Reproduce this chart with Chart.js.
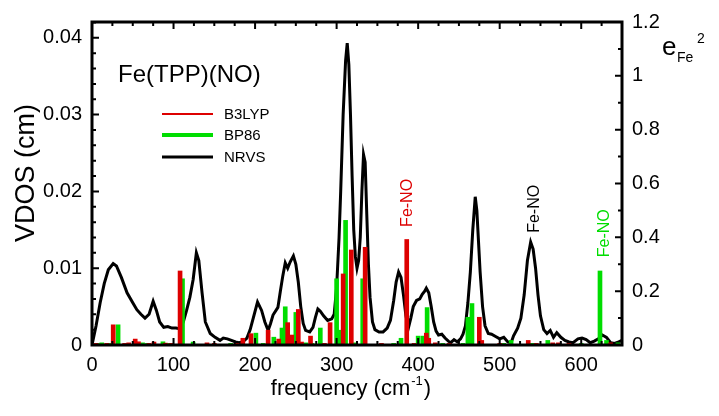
<!DOCTYPE html>
<html>
<head>
<meta charset="utf-8">
<script src="https://cdn.jsdelivr.net/npm/chart.js@4.4.0/dist/chart.umd.min.js"></script>
<style>
  html, body { margin: 0; padding: 0; background: #fff; }
  #wrap { width: 719px; height: 416px; }
</style>
</head>
<body>
<div id="wrap"><canvas id="vdosChart" width="719" height="416"></canvas></div>
<script>
// NRVS measured curve (frequency in cm-1, VDOS in cm)
const nrvsFreq = [0, 5, 10, 15, 20, 26, 30, 36, 43, 50, 55, 60, 65, 70, 75, 79, 83, 88, 93, 98,
  103, 108, 112, 116, 120, 124, 128, 131, 135, 139, 145, 151, 157, 161, 166, 171, 176, 180, 185, 190,
  194, 198, 203, 208, 212, 216, 219, 222, 228, 231, 234, 237, 240, 243, 247, 250, 253, 256, 259, 262,
  267, 271, 274, 277, 280, 284, 289, 294, 297, 300, 303, 305, 308, 311, 313, 315, 317, 319, 321, 323,
  325, 327, 329, 331, 333, 335, 337, 339, 341, 344, 347, 352, 357, 362, 366, 370, 373, 376, 379, 382,
  385, 388, 391, 394, 398, 402, 405, 408, 410, 413, 416, 419, 422, 425, 429, 433, 437, 440, 444, 448,
  452, 455, 458, 461, 464, 467, 470, 472, 474, 476, 479, 482, 486, 490, 495, 500, 505, 510, 514, 517,
  522, 526, 530, 534, 538, 541, 544, 547, 550, 554, 558, 562, 566, 570, 575, 580, 585, 590, 596, 601,
  606, 611, 616, 621, 626, 631, 636, 641, 646, 650];
const nrvsVdos = [0.0000, 0.0025, 0.0055, 0.0080, 0.0098, 0.0106, 0.0103, 0.0088, 0.0068, 0.0055, 0.0046, 0.0040, 0.0035, 0.0040, 0.0057, 0.0045, 0.0030, 0.0023, 0.0024, 0.0022,
  0.0022, 0.0021, 0.0030, 0.0045, 0.0062, 0.0085, 0.0120, 0.0110, 0.0068, 0.0030, 0.0015, 0.0010, 0.0006, 0.0009, 0.0008, 0.0006, 0.0004, 0.0003, 0.0004, 0.0009,
  0.0020, 0.0036, 0.0056, 0.0045, 0.0030, 0.0019, 0.0028, 0.0039, 0.0049, 0.0070, 0.0090, 0.0107, 0.0100, 0.0108, 0.0116, 0.0105, 0.0082, 0.0050, 0.0028, 0.0019,
  0.0017, 0.0023, 0.0036, 0.0047, 0.0044, 0.0038, 0.0032, 0.0034, 0.0040, 0.0075, 0.0140, 0.0200, 0.0300, 0.0370, 0.0393, 0.0365, 0.0300, 0.0220, 0.0150, 0.0115,
  0.0100, 0.0110, 0.0140, 0.0200, 0.0248, 0.0238, 0.0170, 0.0105, 0.0062, 0.0030, 0.0020, 0.0017, 0.0017, 0.0022, 0.0032, 0.0058, 0.0082, 0.0095, 0.0088, 0.0065,
  0.0038, 0.0022, 0.0035, 0.0050, 0.0058, 0.0060, 0.0066, 0.0070, 0.0074, 0.0068, 0.0050, 0.0030, 0.0018, 0.0013, 0.0014, 0.0009, 0.0005, 0.0003, 0.0007, 0.0004,
  0.0008, 0.0014, 0.0025, 0.0055, 0.0095, 0.0150, 0.0193, 0.0175, 0.0135, 0.0095, 0.0050, 0.0025, 0.0015, 0.0014, 0.0011, 0.0008, 0.0010, 0.0004, 0.0003, 0.0012,
  0.0022, 0.0035, 0.0065, 0.0110, 0.0134, 0.0125, 0.0100, 0.0065, 0.0038, 0.0020, 0.0015, 0.0019, 0.0010, 0.0016, 0.0010, 0.0006, 0.0004, 0.0003, 0.0008, 0.0009,
  0.0007, 0.0003, 0.0005, 0.0008, 0.0013, 0.0010, 0.0003, 0.0002, 0.0004, 0.0006];

// calculated Fe mode energy fractions (e_Fe^2)
const b3lypFreq = [5, 18, 26, 40, 45, 53, 57, 70, 76, 90, 97, 108, 141, 150, 178, 185, 195, 216, 229, 240,
  245, 253, 257, 268, 285, 292, 308, 318, 335, 355, 386, 395, 410, 413, 421, 438, 475, 478, 500, 535,
  545, 565, 572, 585, 636];
const b3lypE2 = [0.006, 0.006, 0.075, 0.006, 0.008, 0.022, 0.012, 0.006, 0.011, 0.007, 0.006, 0.275, 0.008, 0.006, 0.006, 0.025, 0.042, 0.055, 0.022, 0.083,
  0.037, 0.132, 0.011, 0.033, 0.006, 0.083, 0.264, 0.353, 0.363, 0.006, 0.392, 0.006, 0.044, 0.025, 0.008, 0.006, 0.103, 0.017, 0.006, 0.017,
  0.006, 0.008, 0.008, 0.006, 0.008];

const bp86Freq = [8, 12, 22, 32, 62, 68, 87, 95, 111, 124, 170, 201, 210, 223, 233, 237, 250, 262, 270, 280,
  300, 303, 311, 322, 332, 370, 379, 400, 406, 411, 430, 455, 461, 466, 505, 514, 540, 559, 600, 623,
  631, 645];
const bp86E2 = [0.006, 0.008, 0.006, 0.075, 0.008, 0.006, 0.012, 0.006, 0.246, 0.011, 0.006, 0.044, 0.006, 0.029, 0.063, 0.142, 0.121, 0.008, 0.006, 0.063,
  0.246, 0.055, 0.463, 0.008, 0.246, 0.006, 0.025, 0.033, 0.033, 0.139, 0.006, 0.006, 0.103, 0.154, 0.006, 0.017, 0.006, 0.017, 0.006, 0.275,
  0.017, 0.008];

const xTicks = [0, 100, 200, 300, 400, 500, 600];
const leftTicks = [0, 0.01, 0.02, 0.03, 0.04];
const rightTicks = [0, 0.2, 0.4, 0.6, 0.8, 1.0, 1.2];

// Fe-NO labels: [text, frequency, e_Fe^2 position, colour]
const peakLabels = [
  ['Fe-NO', 386, 0.528, '#dd0000'],
  ['Fe-NO', 541, 0.506, '#000000'],
  ['Fe-NO', 627, 0.415, '#00dd00']
];

const FONT = "'Liberation Sans', Arial, Helvetica, sans-serif";
const RED = '#dd0000';
const GREEN = '#00dd00';

const toPoints = (xs, ys) => xs.map((x, i) => ({ x: x, y: ys[i] }));

// frame, inward ticks, legend and text that Chart.js can not place itself
const decorPlugin = {
    id: 'decor',
    afterDatasetsDraw(chart) {
        const c = chart.ctx;
        const a = chart.chartArea;
        const sx = chart.scales.x, sy = chart.scales.y, sy2 = chart.scales.y2;
        c.save();
        c.strokeStyle = '#000';
        c.lineWidth = 3;
        c.strokeRect(a.left, a.top, a.right - a.left, a.bottom - a.top);

        c.lineWidth = 2;
        c.beginPath();
        for (let v = 0; v <= 650; v += 25) {
            const px = sx.getPixelForValue(v);
            const len = v % 100 === 0 ? 7 : 4;
            c.moveTo(px, a.bottom); c.lineTo(px, a.bottom - len);
            c.moveTo(px, a.top); c.lineTo(px, a.top + len);
        }
        for (let i = 0; i <= 21; i++) {
            const py = sy.getPixelForValue(i * 0.002);
            const len = i % 5 === 0 ? 7 : 4;
            c.moveTo(a.left, py); c.lineTo(a.left + len, py);
        }
        for (let i = 0; i <= 12; i++) {
            const py = sy2.getPixelForValue(i * 0.1);
            const len = i % 2 === 0 ? 7 : 4;
            c.moveTo(a.right, py); c.lineTo(a.right - len, py);
        }
        c.stroke();

        // title inside the plot
        c.fillStyle = '#000';
        c.textBaseline = 'alphabetic';
        c.textAlign = 'left';
        c.font = '24px ' + FONT;
        c.fillText('Fe(TPP)(NO)', 118, 82);

        // legend
        const legend = [['B3LYP', RED, 2, 114], ['BP86', GREEN, 4, 135], ['NRVS', '#000', 3, 157]];
        c.font = '15px ' + FONT;
        c.textBaseline = 'middle';
        legend.forEach(([txt, col, w, y]) => {
            c.strokeStyle = col;
            c.lineWidth = w;
            c.beginPath(); c.moveTo(162, y); c.lineTo(213, y); c.stroke();
            c.fillStyle = '#000';
            c.fillText(txt, 224, y + 1);
        });

        // rotated Fe-NO labels
        c.font = '16px ' + FONT;
        c.textAlign = 'center';
        peakLabels.forEach(([txt, f, e, col]) => {
            c.save();
            c.translate(sx.getPixelForValue(f), sy2.getPixelForValue(e));
            c.rotate(-Math.PI / 2);
            c.fillStyle = col;
            c.fillText(txt, 0, 1);
            c.restore();
        });

        // left axis title
        c.save();
        c.translate(27, 173);
        c.rotate(-Math.PI / 2);
        c.fillStyle = '#000';
        c.font = '27px ' + FONT;
        c.fillText('VDOS (cm)', 0, 0);
        c.restore();

        // x axis title with superscript
        c.textAlign = 'left';
        c.textBaseline = 'alphabetic';
        c.fillStyle = '#000';
        c.font = '22px ' + FONT;
        const base = 'frequency (cm';
        const w1 = c.measureText(base).width;
        c.font = '13px ' + FONT;
        const w2 = c.measureText('-1').width;
        c.font = '22px ' + FONT;
        const w3 = c.measureText(')').width;
        const x0 = (a.left + a.right) / 2 - 7 - (w1 + w2 + w3) / 2;
        const yb = 395;
        c.fillText(base, x0, yb);
        c.font = '13px ' + FONT;
        c.fillText('-1', x0 + w1 + 1, yb - 10);
        c.font = '22px ' + FONT;
        c.fillText(')', x0 + w1 + w2 + 2, yb);

        // right axis title e_Fe^2
        c.font = '26px ' + FONT;
        c.fillText('e', 662, 55);
        c.font = '14px ' + FONT;
        c.fillText('Fe', 677, 62);
        c.fillText('2', 697, 43);
        c.restore();
    }
};

const ctx = document.getElementById('vdosChart').getContext('2d');
const tickFont = { family: FONT, size: 20 };

new Chart(ctx, {
    type: 'bar',
    data: {
        datasets: [
            { type: 'line', label: 'NRVS', data: toPoints(nrvsFreq, nrvsVdos), yAxisID: 'y', borderColor: '#000', borderWidth: 3, pointRadius: 0, tension: 0, order: 3 },
            { label: 'BP86', data: toPoints(bp86Freq, bp86E2), yAxisID: 'y2', backgroundColor: GREEN, barThickness: 4, grouped: false, order: 2 },
            { label: 'B3LYP', data: toPoints(b3lypFreq, b3lypE2), yAxisID: 'y2', backgroundColor: RED, barThickness: 4, grouped: false, order: 1 }
        ]
    },
    options: {
        responsive: false,
        animation: false,
        layout: { padding: { top: 18, left: 0, right: 0, bottom: 0 } },
        plugins: { legend: { display: false }, tooltip: { enabled: false } },
        scales: {
            x: {
                type: 'linear', position: 'bottom', min: 0, max: 650, offset: false,
                grid: { display: false, drawTicks: false }, border: { display: false },
                afterBuildTicks: s => { s.ticks = xTicks.map(v => ({ value: v })); },
                afterFit: s => { s.height = 71; },
                ticks: { font: tickFont, color: '#000', padding: 8, maxRotation: 0, autoSkip: false, callback: v => String(v) }
            },
            y: {
                type: 'linear', position: 'left', min: 0, max: 0.04206,
                grid: { display: false, drawTicks: false }, border: { display: false },
                afterBuildTicks: s => { s.ticks = leftTicks.map(v => ({ value: v })); },
                afterFit: s => { s.width = 92; },
                ticks: { font: tickFont, color: '#000', padding: 10, callback: v => v === 0 ? '0' : v.toFixed(2) }
            },
            y2: {
                type: 'linear', position: 'right', min: 0, max: 1.2,
                grid: { display: false, drawTicks: false }, border: { display: false },
                afterBuildTicks: s => { s.ticks = rightTicks.map(v => ({ value: v })); },
                afterFit: s => { s.width = 97; },
                ticks: { font: tickFont, color: '#000', padding: 10, callback: v => String(+v.toFixed(1)) }
            }
        }
    },
    plugins: [decorPlugin]
});
</script>
</body>
</html>
